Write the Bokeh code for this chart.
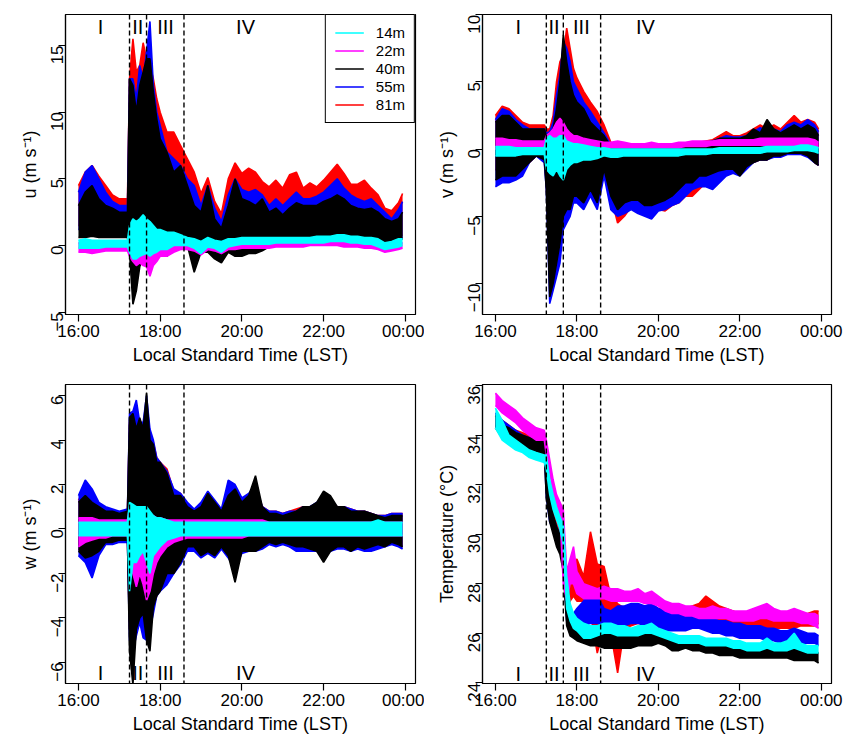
import math
from bokeh.plotting import figure
from bokeh.models import FixedTicker, Span, Legend, LegendItem, Label, Range1d
from bokeh.layouts import column, row
from bokeh.embed import file_html
from bokeh.resources import INLINE

# ---------------- data ----------------
# time grid, minutes after 16:00 LST
T_MIN = [0, 10, 20, 30, 40, 50, 60, 72, 75, 80, 85, 90, 95, 100, 105, 110, 115, 120,
         130, 140, 150, 160, 170, 180, 190, 200, 210, 220, 230, 240, 250, 260, 270, 280,
         290, 300, 310, 320, 330, 340, 350, 360, 370, 380, 390, 400, 410, 420, 430, 440,
         450, 460, 470, 476]

HEIGHTS = ["14m", "22m", "40m", "55m", "81m"]
X_TICKS = [16, 18, 20, 22, 24]
X_TICK_LABELS = ["16:00", "18:00", "20:00", "22:00", "00:00"]
PHASE_BOUNDS = [17.25, 17.667, 18.583]
PHASE_NAMES = ["I", "II", "III", "IV"]

# ---- u (m/s): upper and lower envelope of each height ----
u_81_hi = [4.5, 5.5, 6.0, 5.2, 4.5, 3.8, 3.5, 3.5, 12.5, 15.5, 13.0, 13.5, 15.2, 14.0, 13.5, 12.5, 11.0, 10.0,
           8.5, 8.5, 7.5, 6.5, 5.5, 3.9, 5.1, 3.3, 2.4, 5.0, 6.2, 5.4, 5.8, 5.5, 4.8, 4.4, 4.9, 4.3, 5.3, 5.5,
           4.3, 4.7, 4.4, 4.9, 5.5, 6.1, 5.4, 4.6, 4.6, 4.9, 4.3, 3.8, 2.8, 2.6, 3.2, 3.9]
u_81_lo = [1.5, 1.5, 1.5, 1.5, 1.2, 1.2, 1.0, 1.0, 1.0, 0.0, 0.5, 1.0, 1.0, 1.0, 1.0, 1.0, 1.0, 1.0,
           0.5, 0.5, 0.5, 0.5, 0.5, 0.0, 0.5, 0.5, 0.0, 0.5, 0.5, 0.5, 0.5, 0.5, 0.5, 0.5, 0.8, 0.8, 0.8, 0.8,
           0.8, 0.8, 0.8, 0.8, 0.8, 0.8, 0.8, 0.8, 0.8, 0.8, 0.8, 0.6, 0.5, 0.5, 0.6, 0.8]
u_55_hi = [4.0, 5.5, 6.0, 5.0, 4.0, 3.3, 3.0, 3.0, 12.5, 12.5, 11.0, 13.5, 12.5, 14.5, 16.8, 12.0, 10.0, 9.0,
           7.0, 6.5, 6.0, 5.0, 4.5, 3.0, 4.5, 2.8, 1.8, 3.8, 5.0, 4.2, 4.0, 4.2, 3.8, 3.0, 3.5, 3.0, 3.5, 4.0,
           3.5, 3.5, 3.7, 4.0, 4.5, 5.0, 4.3, 3.8, 3.5, 3.3, 3.5, 3.0, 2.5, 2.0, 2.7, 3.3]
u_55_lo = [1.2, 1.2, 1.2, 1.2, 1.0, 1.0, 0.8, 0.8, 0.0, -2.5, -2.0, -0.5, 0.0, 0.0, 0.0, 0.0, 0.0, 0.3,
           0.0, 0.3, 0.3, 0.3, -1.5, -0.3, 0.0, -0.5, -0.8, 0.0, 0.0, 0.0, 0.0, 0.0, 0.0, 0.2, 0.5, 0.6, 0.6, 0.6,
           0.6, 0.6, 0.6, 0.6, 0.6, 0.6, 0.6, 0.6, 0.5, 0.5, 0.5, 0.4, 0.3, 0.3, 0.4, 0.6]
u_40_hi = [3.0, 4.0, 4.5, 3.5, 3.0, 2.8, 2.5, 2.5, 12.5, 12.0, 10.0, 12.0, 13.0, 14.0, 14.0, 11.5, 9.5, 8.0,
           7.0, 5.5, 6.0, 4.5, 3.0, 2.5, 4.5, 2.0, 1.3, 3.0, 5.0, 3.5, 3.3, 3.0, 3.5, 2.5, 2.8, 2.3, 2.8, 3.2,
           3.0, 3.0, 3.0, 3.3, 3.5, 3.8, 3.5, 3.0, 2.8, 2.7, 2.8, 2.5, 2.0, 1.8, 2.0, 2.5]
u_40_lo = [0.6, 0.6, 0.7, 0.6, 0.6, 0.6, 0.6, 0.6, -0.5, -4.4, -3.4, -1.6, -0.8, -0.5, -0.3, -0.5, -0.3, 0.0,
           -0.8, 0.0, 0.0, 0.0, -2.0, -0.5, -0.5, -1.0, -1.3, -0.5, -0.8, -0.8, -0.6, -0.6, -0.4, -0.1, 0.3, 0.5,
           0.5, 0.5, 0.5, 0.6, 0.6, 0.6, 0.6, 0.6, 0.5, 0.5, 0.4, 0.4, 0.3, 0.3, 0.2, 0.2, 0.3, 0.5]
u_22_hi = [0.2, 0.2, 0.2, 0.2, 0.2, 0.2, 0.2, 0.2, 1.0, 1.2, 1.2, 1.3, 1.3, 1.2, 1.0, 1.0, 0.8, 0.8,
           0.6, 0.5, 0.5, 0.4, 0.3, 0.2, 0.3, 0.2, 0.1, 0.3, 0.3, 0.3, 0.3, 0.3, 0.3, 0.4, 0.4, 0.4, 0.4, 0.4,
           0.4, 0.4, 0.5, 0.5, 0.5, 0.5, 0.5, 0.4, 0.4, 0.3, 0.3, 0.2, 0.0, 0.1, 0.2, 0.2]
u_22_lo = [-0.5, -0.5, -0.6, -0.5, -0.4, -0.4, -0.4, -0.4, -0.8, -1.2, -1.5, -1.3, -1.5, -1.6, -2.3, -1.5, -1.2, -0.8,
           -0.8, -0.5, -0.3, -0.3, -0.4, -0.7, -0.3, -0.4, -0.6, -0.3, -0.3, -0.2, -0.2, -0.2, -0.2, -0.2, -0.1,
           -0.1, -0.1, -0.1, -0.1, 0.0, 0.0, 0.0, 0.0, 0.0, -0.1, -0.1, -0.1, -0.2, -0.2, -0.3, -0.5, -0.4, -0.3, -0.2]
u_14_hi = [0.4, 0.5, 0.4, 0.4, 0.4, 0.4, 0.4, 0.4, 1.5, 2.0, 1.8, 2.0, 2.3, 2.0, 1.8, 1.5, 1.2, 1.2,
           1.0, 1.0, 0.8, 0.6, 0.5, 0.3, 0.6, 0.4, 0.3, 0.5, 0.5, 0.6, 0.6, 0.6, 0.6, 0.6, 0.6, 0.6, 0.6, 0.6,
           0.6, 0.6, 0.7, 0.7, 0.7, 0.8, 0.8, 0.7, 0.7, 0.6, 0.6, 0.5, 0.2, 0.3, 0.5, 0.5]
u_14_lo = [-0.2, -0.2, -0.2, -0.2, -0.1, -0.1, -0.1, -0.1, -0.5, -1.0, -1.0, -0.8, -0.7, -0.6, -0.8, -0.6, -0.5, -0.3,
           -0.3, 0.0, 0.0, 0.0, -0.2, -0.6, -0.1, -0.2, -0.5, -0.1, 0.0, 0.1, 0.1, 0.1, 0.1, 0.1, 0.2, 0.2, 0.2,
           0.2, 0.2, 0.2, 0.2, 0.2, 0.3, 0.3, 0.3, 0.2, 0.2, 0.1, 0.1, -0.1, -0.3, -0.2, -0.1, 0.0]

# ---- v (m/s) ----
v_81_hi = [2.5, 3.2, 3.0, 2.5, 2.0, 1.8, 1.8, 1.8, 1.5, 1.5, 2.5, 5.0, 6.5, 7.0, 9.0, 7.5, 6.0, 5.3,
           4.3, 3.5, 2.8, 1.8, 0.5, 0.3, 0.3, 0.3, 0.3, 0.3, 0.3, 0.3, 0.3, 0.3, 0.4, 0.4, 0.5, 0.5, 0.6, 0.7,
           1.0, 1.3, 1.0, 1.0, 1.2, 1.5, 1.8, 1.5, 1.8, 1.5, 2.0, 2.5, 2.0, 2.2, 2.0, 1.5]
v_81_lo = [-1.5, -2.0, -2.0, -1.8, -1.5, -1.0, -0.5, -0.8, -2.5, -9.0, -9.0, -7.5, -6.0, -4.5, -4.0, -4.0, -3.5, -3.5,
           -3.8, -3.0, -3.8, -1.5, -3.5, -5.5, -5.0, -4.3, -4.6, -4.5, -4.5, -4.5, -4.6, -4.2, -4.0, -3.5, -3.5,
           -3.0, -2.5, -2.0, -1.8, -1.5, -1.5, -1.5, -1.2, -1.0, -0.8, -0.8, -0.5, -0.5, -0.3, -0.3, -0.3, -0.5,
           -1.0, -1.2]
v_55_hi = [2.2, 3.0, 2.8, 2.2, 1.8, 1.5, 1.5, 1.5, 1.2, 1.3, 2.0, 4.0, 5.5, 8.0, 7.5, 6.5, 5.0, 4.5,
           3.5, 2.8, 2.0, 1.2, 0.3, 0.2, 0.2, 0.2, 0.2, 0.2, 0.2, 0.2, 0.2, 0.2, 0.3, 0.3, 0.4, 0.4, 0.5, 0.6,
           0.8, 1.0, 0.9, 0.9, 1.0, 1.3, 1.6, 1.3, 1.5, 1.3, 1.8, 2.0, 1.8, 2.2, 1.8, 1.3]
v_55_lo = [-2.8, -2.5, -2.5, -2.3, -2.0, -1.0, -0.5, -1.0, -3.0, -11.5, -10.5, -9.5, -8.5, -6.0, -5.5, -5.0, -4.0, -4.0,
           -4.5, -3.5, -4.5, -2.0, -4.5, -5.0, -4.8, -4.5, -4.8, -5.0, -5.2, -4.6, -4.5, -4.2, -4.0, -3.5, -3.0,
           -2.8, -2.8, -3.0, -2.5, -2.0, -1.8, -2.0, -1.5, -1.0, -0.8, -0.8, -0.6, -0.6, -0.4, -0.4, -0.4, -0.6,
           -1.0, -1.2]
v_40_hi = [2.0, 2.5, 2.5, 2.0, 1.5, 1.5, 1.5, 1.5, 1.0, 1.2, 1.5, 3.0, 5.0, 8.5, 6.5, 5.0, 4.0, 3.5,
           3.0, 2.0, 1.5, 1.0, 0.2, 0.0, 0.0, 0.0, 0.0, 0.0, 0.0, 0.0, 0.0, 0.1, 0.2, 0.2, 0.3, 0.4, 0.5, 0.6,
           0.8, 0.8, 0.8, 0.8, 1.0, 1.5, 1.2, 2.2, 1.5, 1.2, 1.5, 1.8, 1.5, 1.8, 1.5, 1.0]
v_40_lo = [-2.3, -2.0, -2.0, -2.0, -1.5, -1.0, -0.5, -0.8, -3.0, -11.0, -10.0, -8.5, -7.0, -5.0, -4.5, -4.5, -3.5, -3.5,
           -4.0, -3.0, -4.0, -1.5, -3.5, -4.5, -4.0, -3.8, -3.8, -4.2, -4.2, -4.0, -3.8, -3.5, -3.0, -2.5, -2.5,
           -2.0, -2.0, -1.8, -1.6, -1.5, -1.5, -2.0, -1.3, -1.0, -0.8, -0.8, -0.5, -0.5, -0.3, -0.3, -0.3, -0.5,
           -1.0, -1.2]
v_22_hi = [0.8, 0.8, 0.7, 0.7, 0.6, 0.6, 0.6, 0.6, 1.0, 1.2, 1.5, 2.0, 2.3, 2.0, 1.5, 1.2, 1.0, 1.0,
           0.8, 0.7, 0.6, 0.5, 0.5, 0.6, 0.5, 0.4, 0.4, 0.4, 0.5, 0.4, 0.4, 0.4, 0.5, 0.5, 0.6, 0.6, 0.6, 0.6,
           0.7, 0.7, 0.7, 0.7, 0.7, 0.7, 0.8, 0.8, 0.8, 0.8, 0.8, 0.8, 0.8, 0.8, 0.7, 0.5]
v_22_lo = [0.0, 0.0, 0.0, 0.0, 0.0, 0.0, 0.0, 0.0, -0.5, -1.0, -1.5, -1.5, -1.5, -1.5, -1.0, -0.8, -0.6, -0.5,
           -0.3, -0.2, -0.1, 0.0, 0.1, 0.1, 0.1, 0.1, 0.1, 0.1, 0.1, 0.1, 0.1, 0.1, 0.1, 0.2, 0.2, 0.2, 0.2, 0.3,
           0.3, 0.3, 0.3, 0.3, 0.3, 0.3, 0.3, 0.3, 0.3, 0.3, 0.3, 0.3, 0.3, 0.3, 0.2, 0.1]
v_14_hi = [0.2, 0.2, 0.2, 0.1, 0.1, 0.1, 0.1, 0.1, 0.8, 1.0, 0.8, 0.8, 1.0, 1.0, 0.6, 0.5, 0.4, 0.4,
           0.3, 0.2, 0.1, 0.1, 0.0, 0.0, 0.0, 0.0, 0.0, 0.0, 0.0, 0.0, 0.0, 0.0, 0.0, 0.0, 0.0, 0.0, 0.0, 0.0,
           0.1, 0.1, 0.1, 0.1, 0.1, 0.1, 0.1, 0.2, 0.2, 0.2, 0.2, 0.2, 0.3, 0.3, 0.2, 0.1]
v_14_lo = [-0.5, -0.5, -0.5, -0.5, -0.4, -0.4, -0.4, -0.4, -1.5, -1.8, -2.0, -1.5, -2.0, -2.3, -1.5, -1.2, -1.0, -1.0,
           -0.8, -0.8, -0.7, -0.5, -0.6, -0.6, -0.5, -0.5, -0.5, -0.5, -0.5, -0.5, -0.5, -0.5, -0.5, -0.4, -0.4,
           -0.4, -0.4, -0.3, -0.3, -0.3, -0.3, -0.3, -0.3, -0.3, -0.3, -0.2, -0.2, -0.2, -0.2, -0.1, -0.1, -0.1,
           -0.2, -0.3]

# ---- w (m/s) ----
w_81_hi = [1.3, 1.8, 1.5, 1.1, 0.9, 0.8, 0.7, 0.8, 4.8, 5.0, 4.8, 4.6, 4.6, 5.5, 4.3, 3.9, 3.2, 3.0,
           2.7, 1.7, 1.6, 1.1, 0.8, 1.1, 1.5, 1.1, 0.8, 1.8, 1.8, 1.3, 1.5, 1.9, 1.0, 0.8, 0.8, 0.7, 0.8, 0.9,
           1.0, 1.0, 1.1, 1.2, 1.2, 1.0, 1.0, 0.9, 0.8, 0.8, 0.7, 0.6, 0.6, 0.7, 0.7, 0.7]
w_81_lo = [-0.9, -1.2, -1.2, -1.0, -0.6, -0.6, -0.5, -0.5, -4.5, -5.0, -4.3, -4.0, -4.5, -4.8, -4.5, -3.5, -3.0, -2.6,
           -2.2, -1.8, -1.5, -0.9, -0.9, -1.1, -1.0, -1.1, -0.8, -1.1, -1.6, -1.0, -0.9, -0.9, -0.8, -0.6, -0.7,
           -0.6, -0.8, -0.9, -0.9, -0.9, -0.9, -1.0, -0.9, -0.8, -0.8, -0.9, -0.8, -0.9, -0.9, -0.8, -0.7, -0.6,
           -0.7, -0.8]
w_55_hi = [1.5, 2.2, 1.8, 1.2, 1.0, 0.9, 0.8, 0.9, 5.2, 5.3, 5.8, 4.8, 4.8, 6.0, 4.5, 4.0, 3.2, 3.0,
           2.6, 1.8, 1.6, 1.2, 0.9, 1.2, 1.7, 1.3, 0.9, 2.2, 2.0, 1.4, 1.6, 2.0, 1.0, 0.8, 0.8, 0.7, 0.8, 0.8,
           1.0, 1.0, 1.2, 1.3, 1.3, 1.0, 1.0, 0.9, 0.8, 0.8, 0.7, 0.6, 0.6, 0.7, 0.7, 0.7]
w_55_lo = [-1.2, -1.5, -2.2, -1.2, -0.7, -0.7, -0.6, -0.6, -5.0, -5.5, -4.8, -4.2, -4.9, -5.0, -4.5, -3.8, -3.0, -2.8,
           -2.5, -2.0, -1.6, -1.0, -1.0, -1.3, -1.1, -1.3, -0.9, -1.3, -1.8, -1.1, -1.0, -1.0, -0.9, -0.7, -0.8,
           -0.7, -0.8, -1.0, -1.0, -1.0, -1.0, -1.2, -1.0, -0.9, -0.9, -1.0, -0.9, -1.0, -1.0, -0.9, -0.8, -0.7,
           -0.8, -0.9]
w_40_hi = [1.2, 1.5, 1.2, 1.0, 0.8, 0.8, 0.7, 0.8, 5.0, 5.2, 4.5, 5.0, 4.5, 6.1, 4.0, 3.8, 3.0, 3.0,
           2.5, 1.5, 1.5, 1.0, 0.8, 1.0, 1.6, 1.2, 0.8, 1.5, 1.8, 1.2, 1.5, 2.4, 1.0, 0.7, 0.7, 0.6, 0.7, 0.8,
           1.0, 1.0, 1.2, 1.7, 1.5, 1.0, 1.0, 0.8, 0.8, 0.8, 0.7, 0.6, 0.5, 0.6, 0.6, 0.6]
w_40_lo = [-1.0, -1.3, -1.2, -1.0, -0.6, -0.6, -0.5, -0.5, -5.5, -7.0, -4.5, -4.0, -3.8, -5.0, -5.5, -3.5, -3.0, -2.8,
           -2.0, -2.0, -1.5, -0.8, -0.8, -1.2, -1.0, -1.2, -0.8, -1.2, -2.4, -1.0, -1.0, -1.0, -0.8, -0.6, -0.7,
           -0.6, -0.7, -0.8, -0.8, -0.9, -1.0, -1.5, -1.0, -0.8, -0.8, -1.0, -0.8, -0.9, -0.8, -0.7, -0.8, -0.6,
           -0.7, -0.8]
w_22_hi = [0.5, 0.5, 0.5, 0.4, 0.4, 0.4, 0.4, 0.4, 1.0, 1.0, 1.0, 0.9, 0.8, 0.8, 0.7, 0.6, 0.5, 0.5,
           0.4, 0.4, 0.4, 0.4, 0.4, 0.4, 0.4, 0.4, 0.4, 0.4, 0.4, 0.4, 0.4, 0.4, 0.4, 0.3, 0.3, 0.3, 0.3, 0.3,
           0.3, 0.3, 0.3, 0.3, 0.3, 0.3, 0.3, 0.3, 0.3, 0.3, 0.3, 0.3, 0.3, 0.3, 0.3, 0.3]
w_22_lo = [-0.8, -0.6, -0.5, -0.4, -0.4, -0.3, -0.3, -0.3, -1.5, -2.0, -2.6, -2.0, -2.5, -3.2, -2.8, -2.0, -1.5, -1.2,
           -0.8, -0.6, -0.5, -0.4, -0.4, -0.4, -0.4, -0.4, -0.4, -0.4, -0.4, -0.4, -0.3, -0.3, -0.3, -0.3, -0.3,
           -0.3, -0.3, -0.3, -0.3, -0.3, -0.3, -0.3, -0.3, -0.3, -0.3, -0.3, -0.3, -0.3, -0.3, -0.3, -0.3, -0.3,
           -0.3, -0.3]
w_14_hi = [0.3, 0.3, 0.3, 0.3, 0.3, 0.3, 0.3, 0.3, 1.2, 1.1, 1.0, 1.0, 1.0, 1.0, 0.8, 0.6, 0.5, 0.5,
           0.4, 0.3, 0.3, 0.3, 0.3, 0.3, 0.3, 0.3, 0.3, 0.3, 0.3, 0.3, 0.3, 0.3, 0.3, 0.3, 0.3, 0.3, 0.3, 0.3,
           0.3, 0.3, 0.3, 0.3, 0.3, 0.3, 0.3, 0.3, 0.3, 0.3, 0.3, 0.4, 0.3, 0.3, 0.3, 0.3]
w_14_lo = [-0.3, -0.3, -0.3, -0.3, -0.3, -0.3, -0.3, -0.3, -2.8, -1.5, -1.5, -1.2, -1.0, -1.5, -2.0, -1.2, -1.0, -0.8,
           -0.5, -0.4, -0.3, -0.3, -0.3, -0.3, -0.3, -0.3, -0.3, -0.3, -0.3, -0.3, -0.3, -0.3, -0.3, -0.3, -0.3,
           -0.3, -0.3, -0.3, -0.3, -0.3, -0.3, -0.3, -0.3, -0.3, -0.3, -0.3, -0.3, -0.3, -0.3, -0.3, -0.3, -0.3,
           -0.3, -0.3]

# ---- Temperature (deg C) ----
t_81_hi = [34.9, 34.6, 34.4, 34.2, 34.1, 34.0, 33.9, 33.8, 33.0, 32.0, 31.3, 30.8, 30.5, 30.0, 27.8, 28.2, 28.8, 29.0,
           28.3, 30.1, 28.8, 28.7, 27.5, 27.2, 27.0, 27.0, 27.0, 27.0, 27.0, 27.0, 27.0, 27.0, 27.0, 27.0, 27.1,
           27.2, 27.5, 27.3, 27.1, 27.0, 26.9, 26.8, 26.6, 26.6, 26.6, 26.6, 26.7, 26.7, 26.7, 26.7, 26.8, 26.8,
           26.9, 26.9]
t_81_lo = [34.4, 34.1, 33.9, 33.8, 33.7, 33.6, 33.5, 33.4, 32.0, 31.2, 30.6, 30.2, 29.8, 29.0, 27.0, 27.3, 27.5, 27.3,
           27.3, 26.8, 25.2, 26.2, 26.0, 24.4, 26.2, 26.3, 26.4, 26.4, 26.4, 26.4, 26.4, 26.5, 26.5, 26.5, 26.6,
           26.6, 26.7, 26.7, 26.5, 26.4, 26.3, 26.2, 26.1, 26.1, 26.1, 26.1, 26.2, 26.2, 26.2, 26.2, 26.3, 26.3,
           26.3, 26.4]
t_55_hi = [34.9, 34.6, 34.4, 34.2, 34.0, 33.9, 33.8, 33.8, 32.5, 31.2, 30.7, 30.3, 30.0, 29.6, 27.5, 26.8, 26.8, 27.0,
           27.3, 27.9, 27.5, 27.0, 26.9, 27.1, 27.1, 27.2, 27.2, 27.1, 27.2, 27.0, 26.9, 26.9, 26.9, 26.8, 26.8,
           26.8, 26.7, 26.6, 26.5, 26.5, 26.4, 26.4, 26.3, 26.3, 26.3, 26.2, 26.2, 26.1, 26.1, 26.2, 26.1, 26.0,
           26.0, 25.9]
t_55_lo = [34.4, 34.1, 33.9, 33.8, 33.6, 33.5, 33.4, 33.4, 31.5, 30.5, 30.2, 29.8, 29.5, 28.8, 26.5, 26.0, 26.0, 26.0,
           26.3, 26.4, 26.4, 26.3, 26.2, 26.3, 26.3, 26.4, 26.4, 26.3, 26.4, 26.2, 26.1, 26.1, 26.1, 26.1, 26.2,
           26.2, 26.1, 26.0, 26.0, 25.9, 25.9, 25.8, 25.8, 25.8, 25.8, 25.7, 25.7, 25.6, 25.6, 25.7, 25.6, 25.6,
           25.6, 25.5]
t_40_hi = [34.8, 34.4, 34.3, 34.1, 34.0, 33.9, 33.8, 33.8, 32.5, 31.5, 30.8, 30.3, 30.0, 29.5, 27.5, 26.5, 26.3, 26.2,
           26.3, 26.2, 26.2, 26.0, 26.0, 25.9, 25.9, 26.0, 26.0, 26.0, 26.1, 26.2, 26.0, 25.8, 25.9, 25.9, 25.8,
           25.8, 25.7, 25.7, 25.6, 25.5, 25.5, 25.5, 25.5, 25.4, 25.4, 25.4, 25.4, 25.4, 25.4, 25.4, 25.3, 25.3,
           25.3, 25.2]
t_40_lo = [34.3, 33.9, 33.7, 33.6, 33.5, 33.4, 33.3, 33.2, 31.5, 30.5, 30.0, 29.5, 29.2, 28.5, 26.3, 25.9, 25.8, 25.7,
           25.6, 25.5, 25.5, 25.4, 25.4, 25.4, 25.4, 25.4, 25.5, 25.5, 25.5, 25.6, 25.5, 25.3, 25.3, 25.4, 25.3,
           25.3, 25.2, 25.2, 25.1, 25.1, 25.1, 25.0, 25.0, 25.0, 25.0, 25.0, 25.0, 25.0, 25.0, 24.9, 24.9, 24.9,
           24.9, 24.8]
t_22_hi = [35.7, 35.4, 35.2, 35.0, 34.7, 34.5, 34.3, 34.2, 33.8, 33.0, 32.2, 31.6, 31.3, 31.0, 28.5, 29.0, 29.5, 28.5,
           28.0, 27.9, 27.8, 27.9, 27.8, 27.8, 27.7, 27.7, 27.8, 27.6, 27.7, 27.5, 27.3, 27.2, 27.2, 27.1, 27.1,
           27.0, 27.0, 27.1, 27.0, 27.0, 26.9, 26.9, 26.9, 27.0, 27.1, 27.2, 27.0, 26.9, 26.9, 27.0, 26.9, 26.8,
           26.8, 26.7]
t_22_lo = [35.2, 34.9, 34.7, 34.5, 34.2, 34.0, 33.8, 33.8, 33.2, 32.5, 31.7, 31.1, 30.8, 28.0, 27.3, 28.0, 28.0, 27.6,
           27.4, 27.4, 27.4, 27.4, 27.3, 27.3, 27.3, 27.3, 27.3, 27.2, 27.2, 27.1, 26.9, 26.8, 26.8, 26.7, 26.7,
           26.6, 26.6, 26.6, 26.6, 26.6, 26.5, 26.5, 26.5, 26.5, 26.6, 26.6, 26.5, 26.5, 26.5, 26.5, 26.4, 26.4,
           26.3, 26.2]
t_14_hi = [35.1, 34.6, 34.0, 33.8, 33.6, 33.4, 33.3, 33.2, 33.2, 32.2, 31.6, 31.1, 30.7, 30.4, 28.3, 27.2, 26.8, 26.6,
           26.4, 26.3, 26.3, 26.4, 26.4, 26.3, 26.3, 26.2, 26.3, 26.3, 26.4, 26.2, 26.1, 26.0, 25.9, 25.9, 25.9,
           25.9, 25.8, 25.8, 25.8, 25.8, 25.7, 25.7, 25.6, 25.6, 25.6, 25.8, 25.6, 25.6, 25.7, 26.0, 25.6, 25.5,
           25.5, 25.5]
t_14_lo = [34.3, 33.8, 33.6, 33.4, 33.3, 33.1, 33.0, 32.9, 32.6, 31.6, 31.0, 30.6, 30.2, 29.6, 27.0, 26.5, 26.2, 26.1,
           25.8, 25.8, 25.9, 26.0, 26.0, 25.9, 25.9, 25.9, 25.9, 26.0, 26.0, 25.9, 25.8, 25.7, 25.6, 25.6, 25.6,
           25.6, 25.5, 25.5, 25.5, 25.5, 25.4, 25.4, 25.3, 25.3, 25.3, 25.4, 25.3, 25.3, 25.3, 25.4, 25.3, 25.2,
           25.2, 25.2]

# ---------------- styling ----------------
FONT = "Liberation Sans"
COLORS = {"14m": "#00FFFF", "22m": "#FF00FF", "40m": "#000000", "55m": "#0000FF", "81m": "#FF0000"}
DRAW_ORDER = ["81m", "55m", "40m", "22m", "14m"]

HOURS = [16 + m / 60.0 for m in T_MIN]

_all = dict(globals())
for _name, _val in _all.items():
    if _name[:2] in ("u_", "v_", "w_", "t_") and isinstance(_val, list):
        if len(_val) != len(T_MIN):
            raise ValueError("%s has %d values, expected %d" % (_name, len(_val), len(T_MIN)))


def make_panel(series, ylabel, yr, yticks, roman_x, roman_y, width, height,
               mbl, mbr, mbt, mbb, xlab_standoff, legend=False):
    p = figure(width=width, height=height, x_range=Range1d(15.683, 24.25), y_range=Range1d(*yr),
               output_backend="svg", toolbar_location=None, title=None,
               min_border_left=mbl, min_border_right=mbr, min_border_top=mbt, min_border_bottom=mbb,
               background_fill_color="white", border_fill_color="white")
    p.xgrid.visible = False
    p.ygrid.visible = False
    p.outline_line_color = "black"
    p.outline_line_width = 1.2
    p.outline_line_alpha = 1.0

    tops = {}
    for key in DRAW_ORDER:
        lo, hi = series[key]
        p.varea(x=HOURS, y1=lo, y2=hi, fill_color=COLORS[key], fill_alpha=1.0)
        tops[key] = p.line(HOURS, hi, line_color=COLORS[key], line_width=1.6)
        p.line(HOURS, lo, line_color=COLORS[key], line_width=1.6)

    for b in PHASE_BOUNDS:
        p.add_layout(Span(location=b, dimension="height", line_color="black",
                          line_dash="5 3", line_width=1.4))
    for xx, name in zip(roman_x, PHASE_NAMES):
        p.add_layout(Label(x=xx, y=roman_y, text=name, text_align="center", text_baseline="middle",
                           text_font=FONT, text_font_size="20px", text_color="black"))

    xa = p.xaxis[0]
    ya = p.yaxis[0]
    xa.ticker = FixedTicker(ticks=X_TICKS)
    xa.major_label_overrides = {k: v for k, v in zip(X_TICKS, X_TICK_LABELS)}
    xa.axis_label = "Local Standard Time (LST)"
    ya.ticker = FixedTicker(ticks=yticks)
    ya.axis_label = ylabel
    ya.major_label_orientation = math.pi / 2
    for ax in (xa, ya):
        ax.axis_line_color = "black"
        ax.axis_line_width = 1.2
        ax.major_tick_line_color = "black"
        ax.major_tick_line_width = 1.2
        ax.major_tick_out = 7
        ax.major_tick_in = 0
        ax.minor_tick_line_color = None
        ax.major_label_text_font = FONT
        ax.major_label_text_font_size = "17px"
        ax.major_label_text_color = "black"
        ax.axis_label_text_font = FONT
        ax.axis_label_text_font_size = "18px"
        ax.axis_label_text_font_style = "normal"
        ax.axis_label_text_color = "black"
    xa.major_label_standoff = 0
    xa.axis_label_standoff = xlab_standoff
    ya.major_label_standoff = 1
    ya.axis_label_standoff = 3

    if legend:
        items = [LegendItem(label=k, renderers=[tops[k]]) for k in HEIGHTS]
        leg = Legend(items=items, location="top_right", margin=0, padding=9, spacing=1,
                     glyph_width=29, glyph_height=17, label_height=17, label_standoff=12,
                     label_text_font=FONT, label_text_font_size="15px", label_text_color="black",
                     border_line_color="black", border_line_width=1.2, border_line_alpha=1.0,
                     background_fill_color="white", background_fill_alpha=1.0)
        p.add_layout(leg)
    return p


SUP = "m s\u207b\u00b9"
LEFT_ROMAN_X = [16.54, 17.45, 18.13, 20.09]
RIGHT_ROMAN_X = [16.56, 17.44, 18.11, 19.68]

p_u = make_panel({"14m": (u_14_lo, u_14_hi), "22m": (u_22_lo, u_22_hi), "40m": (u_40_lo, u_40_hi),
                  "55m": (u_55_lo, u_55_hi), "81m": (u_81_lo, u_81_hi)},
                 "u (" + SUP + ")", (-5.17, 17.32), [-5, 0, 5, 10, 15], LEFT_ROMAN_X, 16.42,
                 424, 370, 65, 9, 14, 56, 1, legend=True)
p_v = make_panel({"14m": (v_14_lo, v_14_hi), "22m": (v_22_lo, v_22_hi), "40m": (v_40_lo, v_40_hi),
                  "55m": (v_55_lo, v_55_hi), "81m": (v_81_lo, v_81_hi)},
                 "v (" + SUP + ")", (-12.31, 10.02), [-10, -5, 0, 5, 10], RIGHT_ROMAN_X, 9.09,
                 421, 370, 58, 14, 14, 56, 1)
p_w = make_panel({"14m": (w_14_lo, w_14_hi), "22m": (w_22_lo, w_22_hi), "40m": (w_40_lo, w_40_hi),
                  "55m": (w_55_lo, w_55_hi), "81m": (w_81_lo, w_81_hi)},
                 "w (" + SUP + ")", (-6.95, 6.5), [-6, -4, -2, 0, 2, 4, 6], LEFT_ROMAN_X, -6.5,
                 424, 366, 65, 9, 14, 52, 1)
p_t = make_panel({"14m": (t_14_lo, t_14_hi), "22m": (t_22_lo, t_22_hi), "40m": (t_40_lo, t_40_hi),
                  "55m": (t_55_lo, t_55_hi), "81m": (t_81_lo, t_81_hi)},
                 "Temperature (\u00b0C)", (23.97, 36.05), [24, 26, 28, 30, 32, 34, 36], RIGHT_ROMAN_X, 24.37,
                 421, 366, 58, 14, 14, 52, 1)

layout = column(row(p_u, p_v), row(p_w, p_t))

html = file_html(layout, INLINE, title="Wind components and temperature")
open("out.html", "w").write(html)
